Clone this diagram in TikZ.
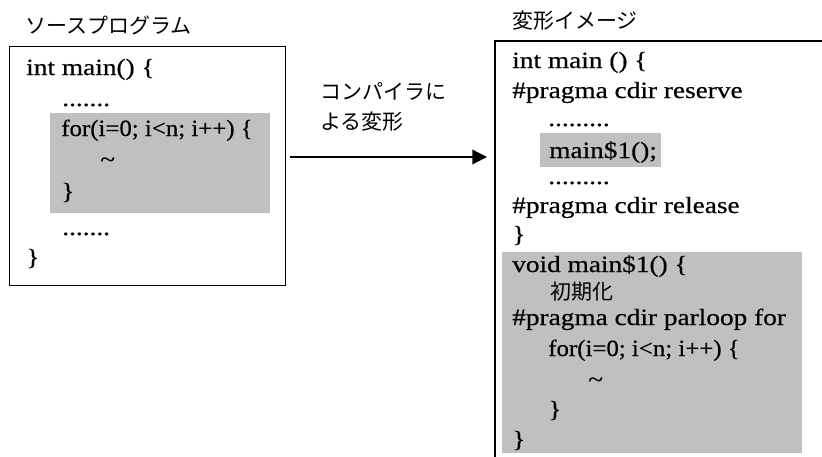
\documentclass[tikz,border=0pt]{standalone}
\usepackage{fontspec}
\setmainfont{Liberation Serif}[FakeStretch=1.17, FakeBold=0.5]
\newfontfamily\jp{Noto Sans CJK JP}
\usetikzlibrary{arrows.meta}
\definecolor{shade}{HTML}{C0C0C0}
% loop headers are set a little narrower
\newcommand{\loophead}{\scalebox{0.91}[1]{for(i=0; i<n; i++) \{}}

\begin{document}
\begin{tikzpicture}[x=0.75pt,y=-0.75pt,
  code/.style={anchor=base west, inner sep=0pt, font=\fontsize{17.5}{20}\selectfont},
  jptext/.style={anchor=west, inner sep=0pt, font=\jp\fontsize{15.75}{19}\selectfont},
  frame/.style={draw=black, line width=0.8pt},
  hl/.style={fill=shade}]
\useasboundingbox (0,0) rectangle (822,457);

% titles
\node[jptext] (srctitle) at (25,25) {ソースプログラム};
\node[jptext] (dsttitle) at (512,21) {変形イメージ};

% source program box
\node[frame, anchor=north west, minimum width=207pt, minimum height=179.25pt,
      inner sep=0pt] (src) at (9,46) {};
\fill[hl] (50,113) rectangle (270,213);
\node[code] (s1) at (26,75) {int main() \{};
\node[code] (s2) at (62,106) {.......};
\node[code] (s3) at (61,136) {\loophead};
\node[code] (s4) at (100,167) {\textasciitilde};
\node[code] (s5) at (61,199) {\}};
\node[code] (s6) at (62,235) {.......};
\node[code] (s7) at (26,265) {\}};

% transformation arrow
\coordinate (from) at (290,157);
\coordinate (to) at (487,157);
\draw[line width=1pt, -{Triangle[length=11pt, width=11pt]}] (from) -- (to);
\node[jptext] (lab1) at (320,91) {コンパイラに};
\node[jptext] (lab2) at (320,122) {よる変形};

% transformed image frame (open at the right and bottom)
\draw[frame] (822,41) -- (495,41) -- (495,457);
\fill[hl] (540,133) rectangle (661,167);
\fill[hl] (502,252) rectangle (802,453);
\node[code] (t1) at (512,68) {int main () \{};
\node[code] (t2) at (512,98) {\#pragma cdir reserve};
\node[code] (t3) at (548,126) {.........};
\node[code] (t4) at (549,158) {main\$1();};
\node[code] (t5) at (548,184) {.........};
\node[code] (t6) at (512,213) {\#pragma cdir release};
\node[code] (t7) at (512,242) {\}};
\node[code] (t8) at (512,272) {void main\$1() \{};
\node[jptext] (t9) at (550,292) {初期化};
\node[code] (t10) at (512,325) {\#pragma cdir parloop for};
\node[code] (t11) at (548,356) {\loophead};
\node[code] (t12) at (588,387) {\textasciitilde};
\node[code] (t13) at (548,417) {\}};
\node[code] (t14) at (512,447) {\}};
\end{tikzpicture}
\end{document}
